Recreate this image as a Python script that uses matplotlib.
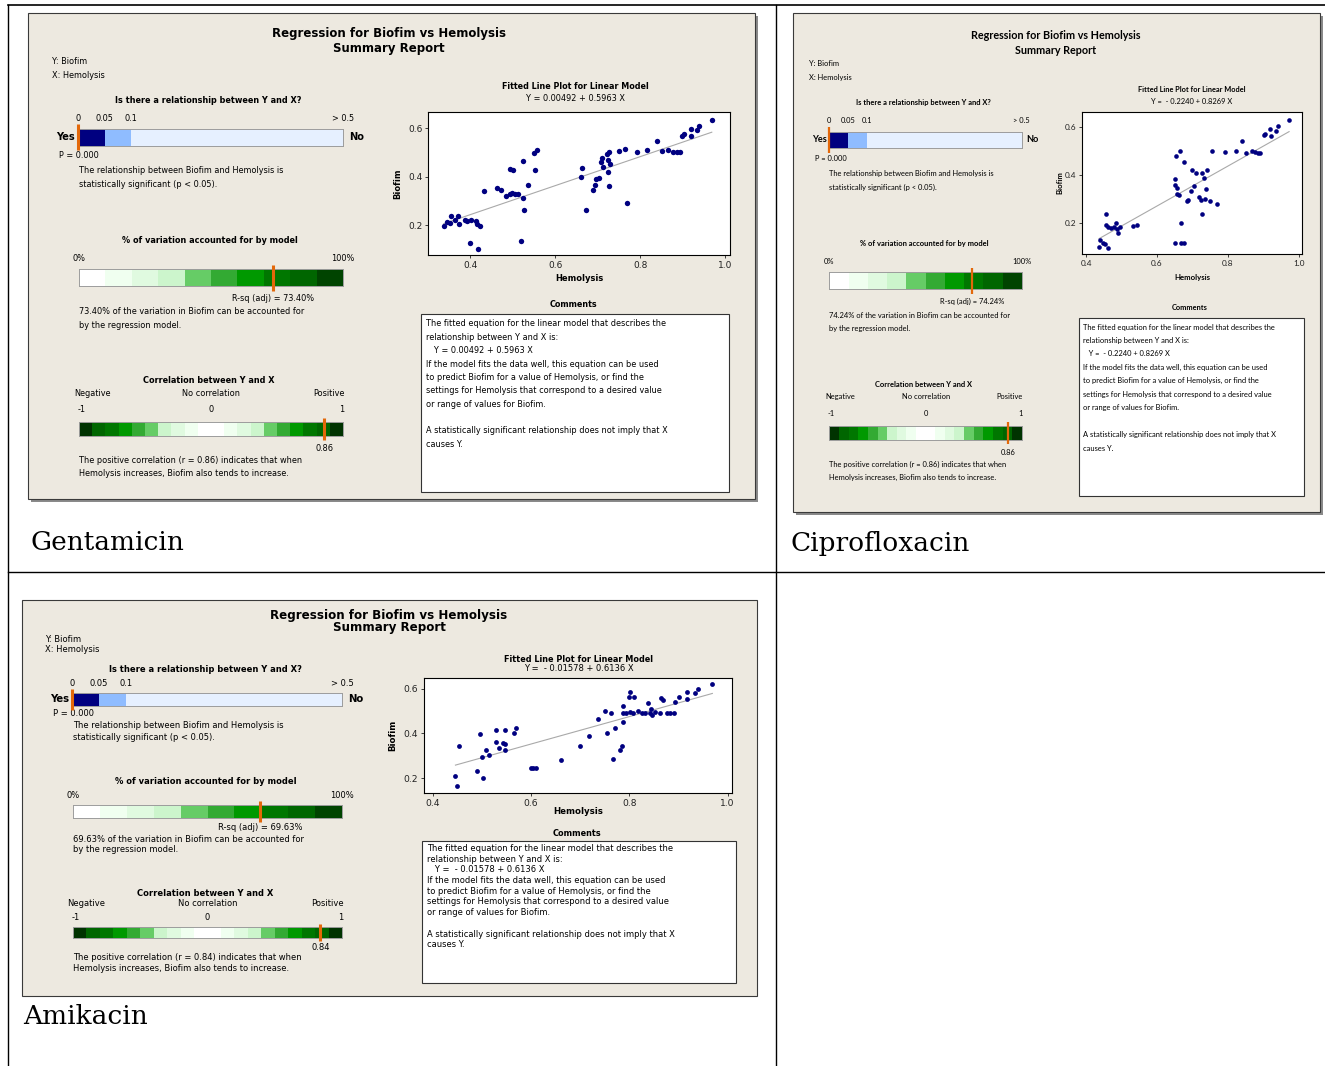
#!/usr/bin/env python
"""
Regression summary reports (Biofim vs Hemolysis) for three
antibiotics, laid out in a two-column table like a Word page.
"""

import numpy as np
import matplotlib
matplotlib.use("Agg")
import matplotlib.pyplot as plt
from matplotlib.patches import Rectangle
from matplotlib.transforms import blended_transform_factory
from matplotlib import font_manager

W, H = 1325, 1066

ANTIBIOTICS = ["Gentamicin", "Ciprofloxacin", "Amikacin"]

# scatter data
GEN_HEMOLYSIS = [0.337, 0.345, 0.351, 0.354, 0.363, 0.371, 0.374, 0.387, 0.392, 0.398,
                 0.402, 0.414, 0.416, 0.419, 0.422, 0.431, 0.463, 0.471, 0.485, 0.493,
                 0.494, 0.501, 0.499, 0.505, 0.512, 0.520, 0.524, 0.524, 0.527, 0.536,
                 0.549, 0.553, 0.557, 0.661, 0.662, 0.672, 0.690, 0.694, 0.696, 0.702,
                 0.708, 0.710, 0.713, 0.722, 0.724, 0.724, 0.727, 0.727, 0.730, 0.751,
                 0.764, 0.768, 0.792, 0.817, 0.839, 0.851, 0.866, 0.878, 0.886, 0.894,
                 0.900, 0.903, 0.919, 0.921, 0.935, 0.938, 0.969]
GEN_BIOFILM = [0.196, 0.214, 0.207, 0.237, 0.223, 0.237, 0.204, 0.223, 0.218, 0.125,
               0.221, 0.218, 0.204, 0.103, 0.196, 0.341, 0.355, 0.344, 0.319, 0.327,
               0.433, 0.426, 0.333, 0.327, 0.327, 0.136, 0.464, 0.310, 0.264, 0.364,
               0.499, 0.426, 0.508, 0.399, 0.436, 0.262, 0.344, 0.364, 0.392, 0.395,
               0.460, 0.478, 0.440, 0.492, 0.470, 0.419, 0.501, 0.360, 0.453, 0.505,
               0.514, 0.292, 0.501, 0.508, 0.547, 0.505, 0.511, 0.501, 0.501, 0.501,
               0.566, 0.574, 0.566, 0.597, 0.593, 0.607, 0.634]

CIP_HEMOLYSIS = [0.436, 0.440, 0.447, 0.452, 0.462, 0.457, 0.455, 0.462, 0.470, 0.477,
                 0.485, 0.487, 0.490, 0.496, 0.532, 0.542, 0.652, 0.651, 0.655, 0.657,
                 0.653, 0.665, 0.663, 0.651, 0.669, 0.667, 0.676, 0.676, 0.686, 0.687,
                 0.697, 0.698, 0.704, 0.710, 0.719, 0.723, 0.726, 0.727, 0.733, 0.736,
                 0.738, 0.742, 0.750, 0.769, 0.754, 0.792, 0.822, 0.840, 0.852, 0.867,
                 0.876, 0.884, 0.891, 0.901, 0.905, 0.920, 0.922, 0.937, 0.942, 0.973]
CIP_BIOFILM = [0.103, 0.131, 0.120, 0.114, 0.098, 0.237, 0.193, 0.186, 0.182, 0.186,
               0.200, 0.175, 0.161, 0.186, 0.189, 0.192, 0.383, 0.359, 0.345, 0.321,
               0.480, 0.501, 0.317, 0.120, 0.200, 0.120, 0.117, 0.455, 0.294, 0.299,
               0.335, 0.421, 0.354, 0.410, 0.310, 0.299, 0.410, 0.237, 0.390, 0.303,
               0.341, 0.421, 0.294, 0.280, 0.501, 0.497, 0.501, 0.541, 0.494, 0.501,
               0.497, 0.494, 0.494, 0.566, 0.572, 0.590, 0.561, 0.583, 0.606, 0.628]

AMI_HEMOLYSIS = [0.446, 0.449, 0.454, 0.490, 0.497, 0.500, 0.502, 0.509, 0.514, 0.529,
                 0.529, 0.535, 0.543, 0.547, 0.547, 0.547, 0.566, 0.569, 0.599, 0.604,
                 0.609, 0.661, 0.699, 0.718, 0.737, 0.750, 0.754, 0.762, 0.766, 0.770,
                 0.782, 0.785, 0.787, 0.787, 0.787, 0.793, 0.799, 0.801, 0.801, 0.810,
                 0.808, 0.818, 0.825, 0.832, 0.837, 0.842, 0.845, 0.847, 0.852, 0.863,
                 0.865, 0.869, 0.876, 0.883, 0.890, 0.893, 0.902, 0.917, 0.918, 0.933,
                 0.939, 0.969]
AMI_BIOFILM = [0.210, 0.163, 0.345, 0.233, 0.396, 0.294, 0.201, 0.324, 0.301, 0.413,
               0.360, 0.334, 0.357, 0.413, 0.354, 0.324, 0.401, 0.424, 0.243, 0.243,
               0.243, 0.281, 0.345, 0.387, 0.463, 0.500, 0.403, 0.490, 0.285, 0.424,
               0.325, 0.345, 0.452, 0.524, 0.490, 0.493, 0.561, 0.584, 0.496, 0.561,
               0.490, 0.500, 0.490, 0.493, 0.536, 0.490, 0.510, 0.484, 0.496, 0.493,
               0.557, 0.551, 0.490, 0.490, 0.490, 0.542, 0.561, 0.584, 0.554, 0.581,
               0.600, 0.622]

HEMOLYSIS = [GEN_HEMOLYSIS, CIP_HEMOLYSIS, AMI_HEMOLYSIS]
BIOFILM = [GEN_BIOFILM, CIP_BIOFILM, AMI_BIOFILM]

INTERCEPTS = [0.00492, -0.2240, -0.01578]
SLOPES = [0.5963, 0.8269, 0.6136]
EQUATIONS = ["Y = 0.00492 + 0.5963 X",
             "Y =  - 0.2240 + 0.8269 X",
             "Y =  - 0.01578 + 0.6136 X"]
R_SQ_ADJ = [73.40, 74.24, 69.63]
CORR_R = [0.86, 0.86, 0.84]
P_VALUES = [0.000, 0.000, 0.000]

X_TICKS = [0.4, 0.6, 0.8, 1.0]
Y_TICKS = [0.2, 0.4, 0.6]
P_BREAKS = [0, 0.05, 0.1, 0.5]
P_TICK_LABELS = ["0", "0.05", "0.1", "> 0.5"]

# styling
BG = "#EDE9E0"
ORANGE = "#E3680A"
NAVY = "#000080"
P_POS = [0, 0.1, 0.2, 1.0]
P_COLORS = ["#000080", "#8FBCFF", "#E6F0FF"]
RSQ_COLORS = ["#FFFFFF", "#F0FFF0", "#E0FAE0", "#CCF5CC", "#66CC66",
              "#33AA33", "#009900", "#007700", "#006600", "#004400"]
CORR_COLORS = ["#003300", "#006600", "#007700", "#009900", "#33AA33",
               "#66CC66", "#CCF5CC", "#E0FAE0", "#F0FFF0", "#FFFFFF",
               "#FFFFFF", "#F0FFF0", "#E0FAE0", "#CCF5CC", "#66CC66",
               "#33AA33", "#009900", "#007700", "#006600", "#003300"]

# a narrower face for the squeezed Ciprofloxacin report
_names = {f.name for f in font_manager.fontManager.ttflist}
if "Liberation Sans Narrow" in _names:
    NARROW, NARROW_K = "Liberation Sans Narrow", 0.95
elif "Lato" in _names:
    NARROW, NARROW_K = "Lato", 0.9
else:
    NARROW, NARROW_K = "DejaVu Sans", 0.715

# where each report sits on the page (report units -> page pixels)
LAYOUT = {
    "Gentamicin": dict(ox=29, oy=13, sx=0.981, sy=1.251, frame=(28, 13, 755, 499),
                       shadow=True, box=(428, 112, 730, 255),
                       xlim=(0.300, 1.012), ylim=(0.077, 0.666),
                       family="DejaVu Sans", fk=0.98, ms=15, mlw=2.2,
                       caption=(30, 543)),
    "Ciprofloxacin": dict(ox=793, oy=15, sx=0.715, sy=1.256, frame=(793, 13, 1320, 512),
                          shadow=True, box=(1082, 112, 1302, 254),
                          xlim=(0.388, 1.0095), ylim=(0.073, 0.662),
                          family=NARROW, fk=NARROW_K, ms=11, mlw=1.6,
                          caption=(790, 543)),
    "Amikacin": dict(ox=22, oy=600, sx=1.0, sy=1.0, frame=(22, 600, 757, 996),
                     shadow=False, box=(424, 678, 732, 793),
                     xlim=(0.382, 1.009), ylim=(0.133, 0.648),
                     family="DejaVu Sans", fk=1.0, ms=12, mlw=2.2,
                     caption=(23, 1017)),
}


def px_axes(fig, x0, y0, x1, y1):
    return fig.add_axes([x0 / W, 1 - y1 / H, (x1 - x0) / W, (y1 - y0) / H])


def bar_axes(ax, lefts, widths, colors, xlim, value, mlw):
    ax.barh(0.5, widths, left=lefts, height=1.0, color=colors, linewidth=0)
    ax.set_xlim(*xlim)
    ax.set_ylim(0, 1)
    ax.set_xticks([])
    ax.set_yticks([])
    ax.patch.set_alpha(0)
    for sp in ax.spines.values():
        sp.set_color("#9c9c9c")
        sp.set_linewidth(0.7)
    ax.plot([value, value], [-0.3, 1.3], color=ORANGE, lw=mlw, clip_on=False,
            solid_capstyle="butt", zorder=5)
    return ax


def draw_report(fig, canvas, k):
    name = ANTIBIOTICS[k]
    L = LAYOUT[name]
    fam, fk = L["family"], L["fk"]
    hem, bio = HEMOLYSIS[k], BIOFILM[k]
    b0, b1 = INTERCEPTS[k], SLOPES[k]
    r2, r, p = R_SQ_ADJ[k], CORR_R[k], P_VALUES[k]

    def at(lx, ly):
        return L["ox"] + L["sx"] * lx, L["oy"] + L["sy"] * ly

    def put(lx, ly, s, size, bold=False, ha="left", **kw):
        x, y = at(lx, ly)
        canvas.text(x, y, s, fontsize=size * fk, family=fam,
                    fontweight="bold" if bold else "normal",
                    ha=ha, va="center", **kw)

    def put_on(ax, xv, ly, s, size, ha="center"):
        tr = blended_transform_factory(ax.transData, canvas.transData)
        canvas.text(xv, at(0, ly)[1], s, transform=tr, fontsize=size * fk,
                    family=fam, ha=ha, va="center")

    def sub_axes(lx0, ly0, lx1, ly1):
        x0, y0 = at(lx0, ly0)
        x1, y1 = at(lx1, ly1)
        return px_axes(fig, x0, y0, x1, y1)

    # report frame
    x0, y0, x1, y1 = L["frame"]
    if L["shadow"]:
        canvas.add_patch(Rectangle((x0 + 3, y0 + 3), x1 - x0, y1 - y0,
                                   fc="#8a8a8a", ec="none"))
    canvas.add_patch(Rectangle((x0, y0), x1 - x0, y1 - y0, fc=BG,
                               ec="#3a3a3a", lw=0.8))

    put(367, 16, "Regression for Biofim vs Hemolysis", 8.6, True, "center")
    put(367, 28, "Summary Report", 8.6, True, "center")
    put(23, 39, "Y: Biofim", 6)
    put(23, 50, "X: Hemolysis", 6)

    # p-value bar
    put(183, 70, "Is there a relationship between Y and X?", 6, True, "center")
    pb = bar_axes(sub_axes(50, 93, 320, 106), P_POS[:-1], np.diff(P_POS),
                  P_COLORS, (0, 1), np.interp(p, P_BREAKS, P_POS), L["mlw"])
    for pos, lab in zip(P_POS, P_TICK_LABELS):
        put_on(pb, pos, 84, lab, 6)
    put(47, 99.5, "Yes", 7.3, True, "right")
    put(326, 99.5, "No", 7.3, True)
    put(31, 114, f"P = {p:.3f}", 6)
    put(51, 126, "The relationship between Biofim and Hemolysis is", 6)
    put(51, 137, "statistically significant (p < 0.05).", 6)

    # R-sq bar
    put(184, 182, "% of variation accounted for by model", 6, True, "center")
    rb = bar_axes(sub_axes(51, 205, 320, 218), np.arange(0, 100, 10), 10,
                  RSQ_COLORS, (0, 100), r2, L["mlw"])
    put_on(rb, 0, 196, "0%", 6)
    put_on(rb, 100, 196, "100%", 6)
    put_on(rb, r2, 228, f"R-sq (adj) = {r2:.2f}%", 6)
    put(51, 239, f"{r2:.2f}% of the variation in Biofim can be accounted for", 6)
    put(51, 249.5, "by the regression model.", 6)

    # correlation bar
    put(183, 294, "Correlation between Y and X", 6, True, "center")
    cb = bar_axes(sub_axes(51, 327, 320, 338), np.linspace(-1, 0.9, 20), 0.1,
                  CORR_COLORS, (-1, 1), r, L["mlw"])
    put_on(cb, -1.04, 304, "Negative", 6, "left")
    put_on(cb, 0, 304, "No correlation", 6)
    put_on(cb, 1.01, 304, "Positive", 6, "right")
    put_on(cb, -0.98, 317, "-1", 6)
    put_on(cb, 0, 317, "0", 6)
    put_on(cb, 0.99, 317, "1", 6)
    put_on(cb, r, 348, f"{r:.2f}", 6)
    put(51, 358, f"The positive correlation (r = {r:.2f}) indicates that when", 6)
    put(51, 368.5, "Hemolysis increases, Biofim also tends to increase.", 6)

    # fitted line plot
    put(557, 59, "Fitted Line Plot for Linear Model", 5.9, True, "center")
    put(557, 68.5, EQUATIONS[k], 6, ha="center")
    bx0, by0, bx1, by1 = L["box"]
    sc = px_axes(fig, bx0, by0, bx1, by1)
    sc.scatter(hem, bio, s=L["ms"], color=NAVY, linewidths=0, zorder=3)
    xs = np.array([min(hem), max(hem)])
    sc.plot(xs, b0 + b1 * xs, color="#A9A9A9", lw=0.8, zorder=2)
    sc.set_xlim(*L["xlim"])
    sc.set_ylim(*L["ylim"])
    sc.set_xticks(X_TICKS)
    sc.set_yticks(Y_TICKS)
    sc.xaxis.set_major_formatter("{x:.1f}")
    sc.yaxis.set_major_formatter("{x:.1f}")
    sc.tick_params(direction="out", length=2, width=0.6, pad=2,
                   labelsize=6.6 * fk, colors="#222222")
    for lab in sc.get_xticklabels() + sc.get_yticklabels():
        lab.set_family(fam)
    for sp in sc.spines.values():
        sp.set_linewidth(0.8)
    canvas.text((bx0 + bx1) / 2, by1 + 19 * L["sy"], "Hemolysis", fontsize=6.2 * fk,
                family=fam, fontweight="bold", ha="center", va="center")
    canvas.text(bx0 - 31 * L["sx"], (by0 + by1) / 2, "Biofim", fontsize=6.2 * fk,
                family=fam, fontweight="bold", ha="center", va="center", rotation=90)

    # comments box
    put(555, 233, "Comments", 5.9, True, "center")
    cx0, cy0 = at(400, 241)
    cx1, cy1 = at(714, 383)
    canvas.add_patch(Rectangle((cx0, cy0), cx1 - cx0, cy1 - cy0, fc="white",
                               ec="#333333", lw=0.8))
    lines = ["The fitted equation for the linear model that describes the",
             "relationship between Y and X is:",
             "   " + EQUATIONS[k],
             "If the model fits the data well, this equation can be used",
             "to predict Biofim for a value of Hemolysis, or find the",
             "settings for Hemolysis that correspond to a desired value",
             "or range of values for Biofim.",
             "",
             "A statistically significant relationship does not imply that X",
             "causes Y."]
    for i, s in enumerate(lines):
        put(405, 248.5 + 10.7 * i, s, 6)

    cx, cy = L["caption"]
    canvas.text(cx, cy, name, family="DejaVu Serif", fontsize=19.0,
                ha="left", va="center")


def main() -> None:
    fig = plt.figure(figsize=(W / 100, H / 100), dpi=100, facecolor="white")
    canvas = fig.add_axes([0, 0, 1, 1])
    canvas.set_xlim(0, W)
    canvas.set_ylim(H, 0)
    canvas.axis("off")

    # table grid
    canvas.plot([8, W], [5, 5], color="black", lw=1.2)
    canvas.plot([8, 8], [5, H], color="black", lw=1.0)
    canvas.plot([776, 776], [5, H], color="black", lw=1.0)
    canvas.plot([8, W], [572, 572], color="black", lw=1.0)

    for k in range(len(ANTIBIOTICS)):
        draw_report(fig, canvas, k)

    fig.savefig("out.png", dpi=100, facecolor="white")


if __name__ == "__main__":
    main()
